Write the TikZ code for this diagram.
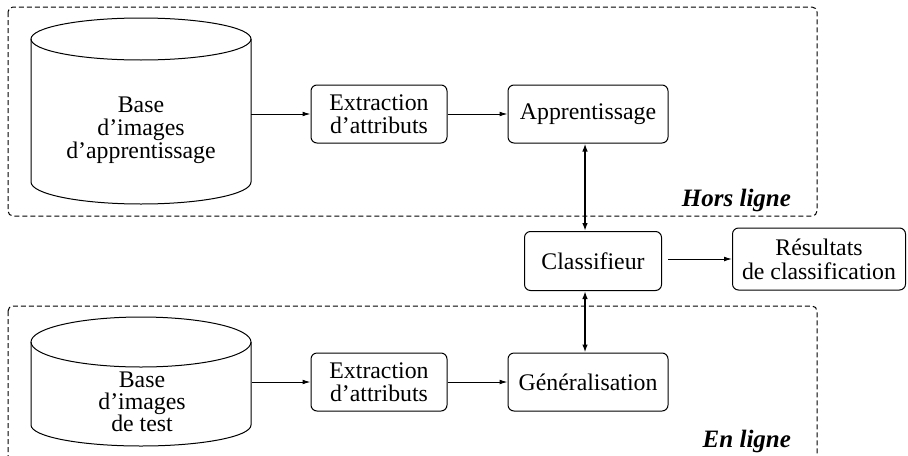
\documentclass[tikz,border=0pt]{standalone}
\usepackage{fontspec}
\setmainfont{Liberation Serif}
\usetikzlibrary{positioning,arrows.meta}
\tikzset{node distance=30pt,
  every node/.style={font=\fontsize{11.9}{11.5}\selectfont},
  boite/.style={draw, rounded corners=3pt, line width=0.5pt, minimum height=29pt, align=center, inner sep=1pt},
  cuve/.style={align=center, minimum width=110pt, inner sep=0pt},
  cadre/.style={draw, dash pattern=on 2.5pt off 1.5pt, rounded corners=2.5pt, line width=0.5pt},
  fleche/.style={-{Latex[length=4pt,width=2.4pt]}, line width=0.5pt},
  bifleche/.style={{Latex[length=4pt,width=2.8pt]}-{Latex[length=4pt,width=2.8pt]}, line width=0.8pt},
  titre/.style={font=\fontsize{12.5}{14}\selectfont\bfseries\itshape, anchor=east}}

\begin{document}
\begin{tikzpicture}[x=0.5pt, y=-0.5pt]
  \clip (0,0) rectangle (908,455);
  % cadres
  \draw[cadre] (8,7) rectangle (817,216);
  \draw[cadre] (8,306) rectangle (817,480);
  \node[titre] (HL) at (798,200) {Hors ligne};
  \node[titre] (EL) at (798,441) {En ligne};
  % bases d'images
  \draw[line width=0.5pt] (141,39) ellipse [x radius=55pt, y radius=10.5pt];
  \draw[line width=0.5pt] (31,39) -- (31,182) arc [start angle=180, end angle=360, x radius=55pt, y radius=11pt] -- (251,39);
  \draw[line width=0.5pt] (141,342) ellipse [x radius=55pt, y radius=12.5pt];
  \draw[line width=0.5pt] (31,342) -- (31,425) arc [start angle=180, end angle=360, x radius=55pt, y radius=10.5pt] -- (251,342);
  \node[cuve] (BA) at (141,130) {Base\\d'images\\d'apprentissage};
  \node[cuve, font=\fontsize{11.9}{11}\selectfont] (BT) at (142,402) {Base\\d'images\\de test};
  % blocs
  \node[boite, minimum width=68pt] (EA) at (379,114) {Extraction\\d'attributs};
  \node[boite, minimum width=80pt] (App) [right=of EA] {Apprentissage};
  \node[boite, minimum width=68pt] (EB) at (379,382) {Extraction\\d'attributs};
  \node[boite, minimum width=80pt] (Gen) [right=of EB] {Généralisation};
  \node[boite, minimum width=68.5pt, minimum height=29.5pt] (Cl) at (593,261) {Classifieur};
  \node[boite, minimum width=86.5pt, minimum height=31pt, font=\fontsize{11.9}{12}\selectfont] (Res) at (819,259) {Résultats\\de classification};
  % liaisons
  \draw[fleche] (BA.east |- EA.west) -- (EA.west);
  \draw[fleche] (EA) -- (App);
  \draw[fleche] (BT.east |- EB.west) -- (EB.west);
  \draw[fleche] (EB) -- (Gen);
  \draw[bifleche] ([xshift=-1.5pt]App.south) -- ([xshift=-1.5pt]App.south |- Cl.north);
  \draw[bifleche] ([xshift=-1.5pt]Gen.north) -- ([xshift=-1.5pt]Gen.north |- Cl.south);
  \draw[fleche, shorten <=3pt] (Cl.east |- Res.west) -- (Res.west);
\end{tikzpicture}
\end{document}
